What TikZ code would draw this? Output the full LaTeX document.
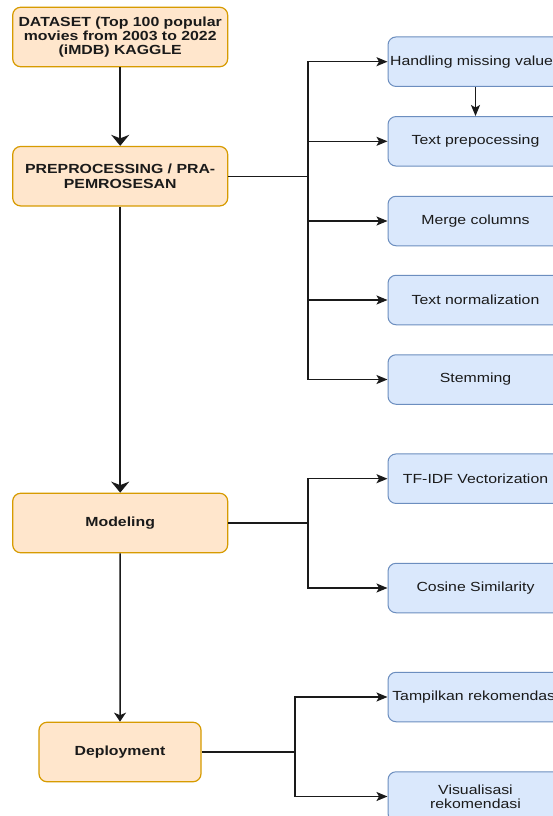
\documentclass[tikz,border=0pt]{standalone}
\usepackage{fontspec}
\setmainfont{Liberation Sans}[FakeStretch=1.2]
\usetikzlibrary{arrows.meta}
\definecolor{ofill}{HTML}{FFE6CC}
\definecolor{odraw}{HTML}{D79B00}
\definecolor{bfill}{HTML}{DAE8FC}
\definecolor{bdraw}{HTML}{6C8EBF}
\definecolor{ink}{HTML}{1A1A1A}
\begin{document}
\begin{tikzpicture}[x=1pt,y=-1pt,
  obox/.style={draw=odraw, fill=ofill, rounded corners=8pt, line width=1.2pt,
    minimum width=215pt, minimum height=59.5pt, inner sep=0pt, align=center,
    font=\fontsize{13.2}{14.3}\selectfont\bfseries, text=ink},
  bbox/.style={draw=bdraw, fill=bfill, rounded corners=8pt, line width=1pt,
    minimum width=175pt, minimum height=49.5pt, inner sep=0pt, align=center,
    font=\fontsize{13.2}{14.3}\selectfont, text=ink},
  bigarrow/.style={draw=ink, line width=2.5pt, -{Stealth[length=11pt,width=18pt,inset=3.5pt]}},
  midarrow/.style={draw=ink, line width=1.5pt, -{Stealth[length=9pt,width=12pt,inset=2.5pt]}},
  link/.style={draw=ink, line width=1.3pt, -{Stealth[length=11pt,width=9pt,inset=2.5pt]}},
  plain/.style={draw=ink, line width=1.3pt}]
\useasboundingbox (0,0) rectangle (553,816);
\fill[white] (0,0) rectangle (553,816);
\clip (0,0) rectangle (553,816);

% main column
\node[obox] (ds) at (120.2,37) {DATASET (Top 100 popular\\movies from 2003 to 2022\\(iMDB) KAGGLE};
\node[obox] (pre) at (120.2,176.2) {PREPROCESSING / PRA-\\PEMROSESAN};
\node[obox] (mod) at (120.2,523) {Modeling};
\node[obox, minimum width=162pt] (dep) at (120,752) {Deployment};

% right column
\node[bbox] (hmv) at (475.5,61.7) {Handling missing values};
\node[bbox] (tp)  at (475.5,141.3) {Text prepocessing};
\node[bbox] (mc)  at (475.5,221) {Merge columns};
\node[bbox] (tn)  at (475.5,300) {Text normalization};
\node[bbox] (st)  at (475.5,379.5) {Stemming};
\node[bbox] (tf)  at (475.5,478.7) {TF-IDF Vectorization};
\node[bbox] (cs)  at (475.5,588) {Cosine Similarity};
\node[bbox] (tr)  at (475.5,697) {Tampilkan rekomendasi};
\node[bbox] (vr)  at (475.5,796.5) {Visualisasi\\rekomendasi};

% junctions
\coordinate (j1) at (308,176.2);
\coordinate (j2) at (308,523);
\coordinate (j3) at (295,752);

% main arrows
\draw[bigarrow] (ds.south) -- (pre.north);
\draw[bigarrow] (pre.south) -- (mod.north);
\draw[midarrow] (mod.south) -- (dep.north);

% branches
\draw[plain] (pre.east) -- (j1);
\foreach \n in {hmv,tp,mc,tn,st} \draw[link] (j1) |- (\n.west);
\draw[link] (hmv.south) -- (tp.north);

\draw[plain] (mod.east) -- (j2);
\foreach \n in {tf,cs} \draw[link] (j2) |- (\n.west);

\draw[plain] (dep.east) -- (j3);
\foreach \n in {tr,vr} \draw[link] (j3) |- (\n.west);
\end{tikzpicture}
\end{document}
